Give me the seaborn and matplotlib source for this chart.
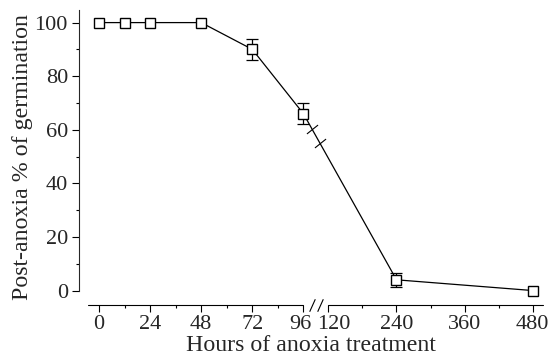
import numpy as np
import pandas as pd
import matplotlib
matplotlib.use("Agg")
import matplotlib.pyplot as plt
import matplotlib.transforms as mtransforms
from matplotlib.path import Path
import seaborn as sns

# ---- data ----
hours = [0, 12, 24, 48, 72, 96, 240, 480]
germination = [100, 100, 100, 100, 90, 66, 4, 0]
germ_err = [0, 0, 0, 0, 4, 4, 2.5, 0]
xticks_major = [0, 24, 48, 72, 96, 120, 240, 360, 480]
xticks_minor = [12, 36, 60, 84, 180, 300, 420]
yticks_major = [0, 20, 40, 60, 80, 100]
yticks_minor = [10, 30, 50, 70, 90]
break_hours = [104.0, 111.5]   # where the axis break marks sit (inside the gap 96-120)

# ---- broken x scale ----
_hk = np.array([-1000.0, 0.0, 96.0, 120.0, 480.0, 2000.0])
_pk = np.array([-2129.0, 0.0, 204.4, 229.4, 433.6, 433.6 + 1520 * 0.567])

def fwd(h):
    return np.interp(np.asarray(h, dtype=float), _hk, _pk)

def inv(p):
    return np.interp(np.asarray(p, dtype=float), _pk, _hk)

sns.set_style("ticks")
plt.rcParams["font.family"] = ["Liberation Serif", "DejaVu Serif"]

fig = plt.figure(figsize=(5.53, 3.62), dpi=100)
ax = fig.add_axes([79 / 553, 57 / 362, (543 - 79) / 553, (305 - 10) / 362])
ax.set_xscale("function", functions=(fwd, inv))

df = pd.DataFrame({"h": hours, "g": germination, "e": germ_err})
dfe = df[df["e"] > 0]

ax.errorbar(dfe["h"], dfe["g"], yerr=dfe["e"], fmt="none", ecolor="black",
            elinewidth=0.9, capsize=4.4, capthick=0.9, zorder=1.5)
sns.lineplot(data=df, x="h", y="g", ax=ax, color="black", linewidth=0.9,
             marker="s", markersize=7.2, markerfacecolor="white",
             markeredgecolor="black", markeredgewidth=1.0, zorder=2)

ax.set_xlim(-9.4, 498.3)
ax.set_ylim(-5.4, 104.7)

ax.set_xticks(xticks_major)
ax.set_xticklabels([str(t) for t in xticks_major])
ax.set_xticks(xticks_minor, minor=True)
ax.set_yticks(yticks_major)
ax.set_yticks(yticks_minor, minor=True)

ax.tick_params(axis="both", which="major", length=5, width=0.8, labelsize=16,
               direction="out", color="black", pad=3)
ax.tick_params(axis="x", which="major", pad=2)
ax.tick_params(axis="both", which="minor", length=2.5, width=0.8, direction="out",
               color="black")

# nudge the crowded 96 / 120 labels apart
for lab in ax.get_xticklabels():
    if lab.get_text() == "96":
        lab.set_transform(lab.get_transform() +
                          mtransforms.ScaledTranslation(-3 / 100, 0, fig.dpi_scale_trans))
    elif lab.get_text() == "120":
        lab.set_transform(lab.get_transform() +
                          mtransforms.ScaledTranslation(5 / 100, 0, fig.dpi_scale_trans))

ax.set_xlabel("Hours of anoxia treatment", fontsize=17.2, labelpad=1)
ax.set_ylabel("Post-anoxia % of germination", fontsize=17.2, labelpad=1)

for s in ["top", "right"]:
    ax.spines[s].set_visible(False)
ax.spines["left"].set_bounds(0, 104.7)
ax.spines["left"].set_linewidth(0.8)
ax.spines["bottom"].set_visible(False)

# bottom axis line with a gap between 96 and 120
xt = ax.get_xaxis_transform()
ax.plot([-5.2, 96], [0, 0], transform=xt, color="black", lw=0.8, clip_on=False)
ax.plot([120, 498.3], [0, 0], transform=xt, color="black", lw=0.8, clip_on=False)

# break marks on the axis
axis_slash = Path([[-0.45, -1.0], [0.45, 1.0]], [Path.MOVETO, Path.LINETO])
ax.plot(break_hours, [0, 0], transform=xt, linestyle="none", marker=axis_slash,
        markersize=9, markeredgecolor="black", markeredgewidth=0.8, clip_on=False)

# break marks on the data line between 96 and 240
p0, p1 = fwd(96), fwd(240)
ybreak = [66 + (4 - 66) * (fwd(b) - p0) / (p1 - p0) for b in break_hours]
line_slash = Path([[-1.0, -0.8], [1.0, 0.8]], [Path.MOVETO, Path.LINETO])
ax.plot(break_hours, ybreak, linestyle="none", marker=line_slash, markersize=8,
        markeredgecolor="black", markeredgewidth=0.8, zorder=3)

fig.savefig("out.png", dpi=100)
